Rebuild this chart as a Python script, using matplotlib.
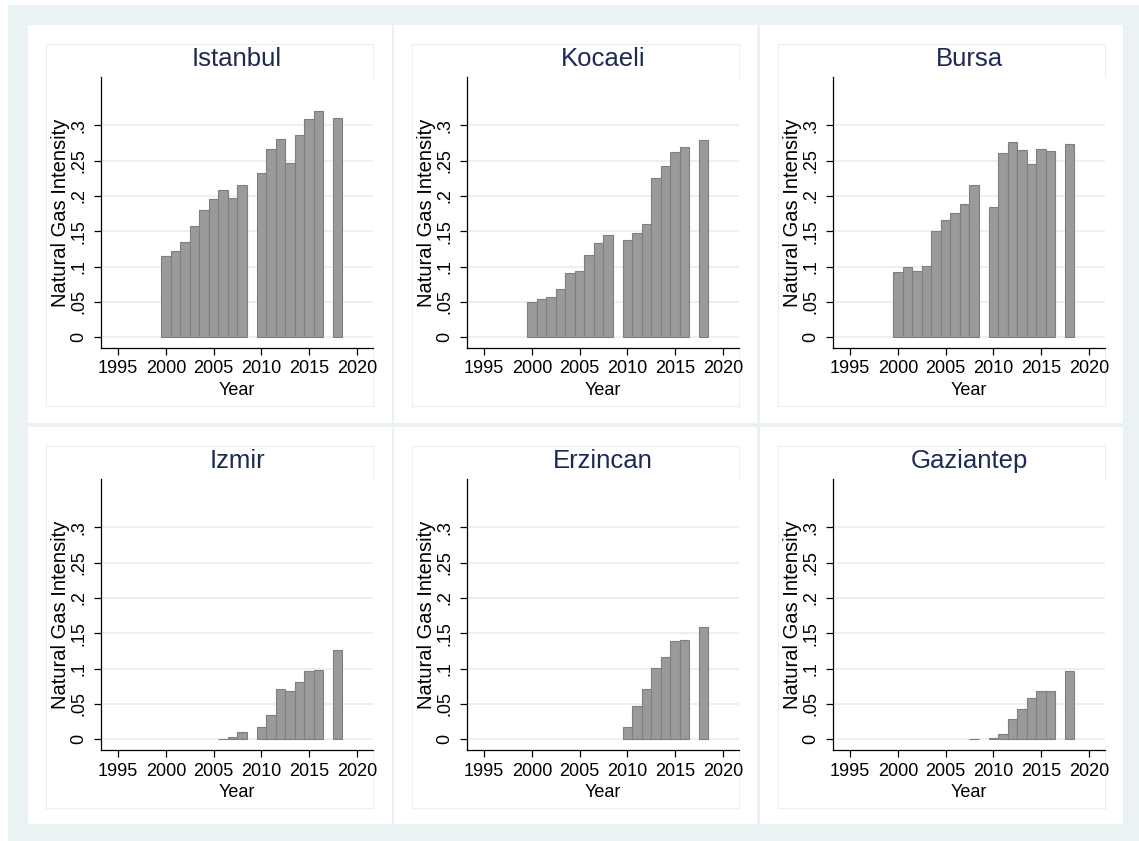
import matplotlib
matplotlib.use("Agg")
import matplotlib.pyplot as plt
from matplotlib.patches import Rectangle
import numpy as np

plt.rcParams['font.family'] = ['Liberation Sans', 'DejaVu Sans']

# data (NaN = no bar)
years = list(range(2000, 2019))
nan = np.nan
istanbul = [0.115, 0.122, 0.135, 0.157, 0.180, 0.196, 0.208, 0.197, 0.215, nan,
            0.233, 0.267, 0.280, 0.247, 0.286, 0.309, 0.320, nan, 0.311]
kocaeli = [0.050, 0.054, 0.057, 0.068, 0.091, 0.094, 0.117, 0.134, 0.145, nan,
           0.138, 0.147, 0.160, 0.226, 0.243, 0.262, 0.270, nan, 0.279]
bursa = [0.093, 0.099, 0.094, 0.101, 0.150, 0.166, 0.176, 0.188, 0.216, nan,
         0.185, 0.261, 0.276, 0.265, 0.245, 0.266, 0.263, nan, 0.274]
izmir = [nan, nan, nan, nan, nan, nan, 0.001, 0.004, 0.011, nan,
         0.017, 0.034, 0.071, 0.069, 0.081, 0.096, 0.098, nan, 0.126]
erzincan = [nan, nan, nan, nan, nan, nan, nan, nan, nan, nan,
            0.018, 0.047, 0.071, 0.101, 0.116, 0.139, 0.141, nan, 0.159]
gaziantep = [nan, nan, nan, nan, nan, nan, nan, nan, 0.001, nan,
             0.0025, 0.008, 0.029, 0.043, 0.058, 0.068, 0.069, nan, 0.097]

cities = ["Istanbul", "Kocaeli", "Bursa", "Izmir", "Erzincan", "Gaziantep"]
series = [istanbul, kocaeli, bursa, izmir, erzincan, gaziantep]

x_ticks = [1995, 2000, 2005, 2010, 2015, 2020]
y_ticks = [0, 0.05, 0.1, 0.15, 0.2, 0.25, 0.3]
y_labels = ["0", ".05", ".1", ".15", ".2", ".25", ".3"]

W, H = 1139, 841
bg_col = "#eaf2f3"
box_col = "#e8f0f2"
grid_col = "#e6eff2"
title_col = "#1c2b55"

fig = plt.figure(figsize=(W / 100, H / 100), dpi=100)
fig.patch.set_facecolor("white")

# background drawn in pixel coordinates
bg = fig.add_axes([0, 0, 1, 1], zorder=-5)
bg.set_xlim(0, W)
bg.set_ylim(H, 0)
bg.axis("off")
bg.add_patch(Rectangle((8, 5), W - 8, H - 5, facecolor=bg_col, edgecolor="none"))

panel_x = [(28, 392), (394, 757), (760, 1123)]
panel_y = [(25, 423), (427, 824)]


def px_to_fig(left, top, right, bottom):
    return [left / W, 1 - bottom / H, (right - left) / W, (bottom - top) / H]


for i, (city, vals) in enumerate(zip(cities, series)):
    r, c = divmod(i, 3)
    px0, px1 = panel_x[c]
    py0, py1 = panel_y[r]
    bg.add_patch(Rectangle((px0, py0), px1 - px0, py1 - py0,
                           facecolor="white", edgecolor="none"))
    # inner box
    bx0, bx1 = px0 + 18, px0 + 345
    by0, by1 = py0 + 19, py0 + 381
    ax_top, ax_bot = py0 + 52, py0 + 323
    lw = 0.8
    bg.plot([bx0, bx1], [by0, by0], color=box_col, lw=lw)
    bg.plot([bx0, bx1], [by1, by1], color=box_col, lw=lw)
    bg.plot([bx0, bx0], [by0, by1], color=box_col, lw=lw)
    bg.plot([bx1, bx1], [by0, ax_top], color=box_col, lw=lw)
    bg.plot([bx1, bx1], [ax_bot, by1], color=box_col, lw=lw)

    ax = fig.add_axes(px_to_fig(px0 + 73, ax_top, bx1, ax_bot))
    ax.set_facecolor("white")

    v = np.array(vals, dtype=float)
    yr = np.array(years)
    m = ~np.isnan(v)
    ax.bar(yr[m], v[m], width=1.0, color="#9a9a9a", edgecolor="#7f7f7f",
           linewidth=0.8, zorder=3)

    ax.set_xlim(1993.2, 2021.7)
    ax.set_ylim(-0.0151, 0.3684)
    ax.set_xticks(x_ticks)
    ax.set_yticks(y_ticks)
    ax.set_yticklabels(y_labels)
    ax.grid(axis="y", color=grid_col, lw=1.2, zorder=0)
    ax.set_axisbelow(True)
    for s in ["top", "right"]:
        ax.spines[s].set_visible(False)
    for s in ["left", "bottom"]:
        ax.spines[s].set_linewidth(0.9)
        ax.spines[s].set_color("black")
    ax.tick_params(axis="both", length=5, width=0.9, labelsize=13, pad=4)
    ax.tick_params(axis="y", labelrotation=90, pad=5)
    for lab in ax.get_yticklabels():
        lab.set_va("center")
    ax.set_xlabel("Year", fontsize=13, labelpad=3)
    ax.set_ylabel("Natural Gas Intensity", fontsize=14.5, labelpad=0)
    ax.set_title(city, fontsize=18.5, color=title_col, pad=8)

fig.savefig("out.png", dpi=100, facecolor=fig.get_facecolor())
